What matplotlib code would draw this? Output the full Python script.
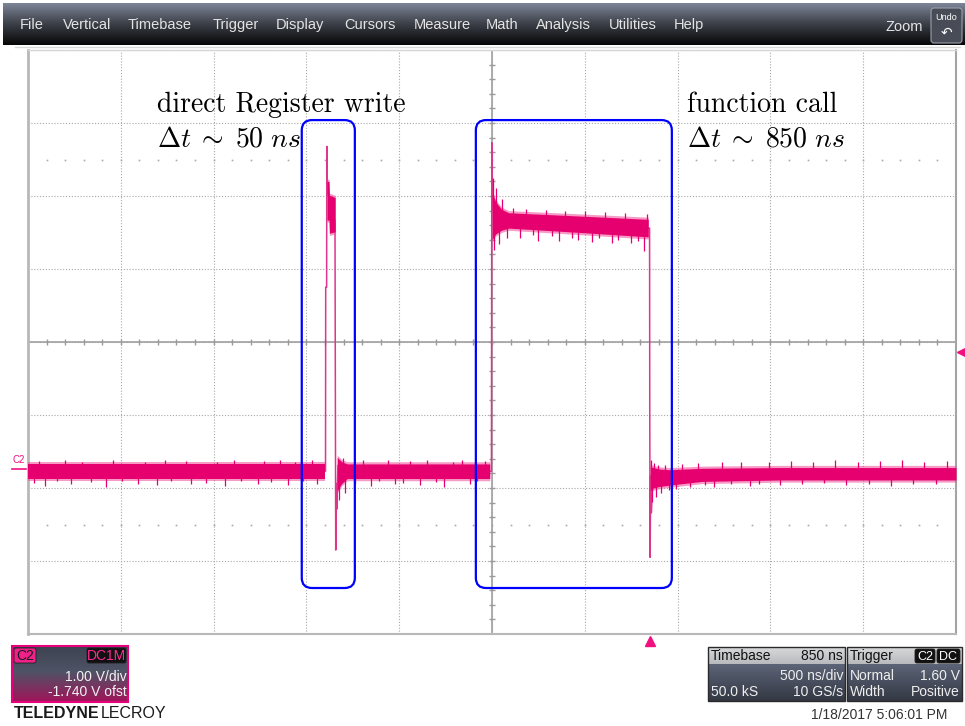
import numpy as np
import matplotlib.pyplot as plt
import matplotlib.transforms as mtransforms
from matplotlib.patches import FancyBboxPatch, Rectangle
from matplotlib.colors import to_rgb

plt.rcParams['mathtext.fontset'] = 'cm'
UI_FONT = ['Liberation Sans', 'DejaVu Sans']
NARROW_FONT = ['Liberation Sans Narrow', 'Liberation Sans', 'DejaVu Sans']

# scope settings (time in ns relative to trigger, volts)
ns_per_div = 500
delay_ns = 850
v_per_div = 1.0
offset_v = -1.74
trig_level = 1.60

# main trace outline
trace_t = [-3350, -1747, -1746, -1741, -1740, -1737, -1725, -1705, -1696, -1692,
           -1689, -1686, -1680, -1665, -853, -851, -849, -846, -830, -6,
           -1, 0, 2, 5, 9, 16, 40, 1650]
trace_v = [-0.03, -0.03, 2.49, 2.49, 4.42, 3.85, 3.65, 3.45, 3.40, -1.11,
           -0.20, -0.55, 0.05, -0.03, -0.03, 4.47, 3.55, 3.75, 3.42, 3.30,
           3.30, 0.74, -1.21, -0.10, -0.60, -0.15, -0.12, -0.07]

# noise envelopes
pre_t = [-3350, -1748]
pre_hi = [0.07, 0.07]
pre_lo = [-0.13, -0.13]

reg_t = [-1739, -1728, -1726, -1695]
reg_hi = [3.94, 3.94, 3.75, 3.72]
reg_lo = [3.41, 3.41, 3.23, 3.25]

mid_t = [-1684, -1660, -1630, -862]
mid_hi = [0.16, 0.10, 0.07, 0.07]
mid_lo = [-0.30, -0.20, -0.13, -0.13]

top_t = [-849, -830, -800, -760, -500, -250, -8]
top_hi = [3.78, 3.66, 3.56, 3.51, 3.48, 3.45, 3.42]
top_lo = [3.14, 3.22, 3.27, 3.30, 3.26, 3.22, 3.18]

post_t = [3, 20, 50, 110, 280, 700, 1650]
post_hi = [0.03, 0.02, 0.00, -0.01, 0.01, 0.02, 0.02]
post_lo = [-0.30, -0.26, -0.24, -0.22, -0.17, -0.15, -0.15]

# noise spikes sticking out of the envelopes (time, tip voltage)
pre_spike_t = [-3320, -3290, -3260, -3195, -3150, -3120, -3060, -3010, -2930, -2890,
               -2845, -2760, -2720, -2655, -2610, -2580, -2500, -2470, -2390, -2330,
               -2290, -2240, -2200, -2110, -2080, -2040, -1990, -1950, -1910, -1870,
               -1820, -1795]
pre_spike_v = [-0.19, 0.11, -0.23, -0.17, 0.13, -0.21, 0.10, -0.18, -0.24, 0.12,
               -0.17, -0.20, 0.10, -0.22, 0.13, -0.17, 0.11, -0.21, -0.19, 0.10,
               -0.23, 0.12, -0.17, -0.20, 0.11, -0.18, 0.13, -0.22, 0.10, -0.17,
               0.12, -0.20]
mid_spike_t = [-1672, -1655, -1640, -1590, -1545, -1500, -1460, -1410, -1370, -1330,
               -1290, -1240, -1200, -1150, -1110, -1060, -1010, -970, -930, -890]
mid_spike_v = [-0.42, 0.15, -0.33, -0.20, 0.12, -0.23, -0.17, 0.13, -0.21, -0.19,
               0.11, -0.22, 0.12, -0.18, -0.24, 0.10, 0.13, -0.20, -0.17, 0.11]
top_spike_t = [-845, -838, -826, -812, -795, -770, -735, -700, -665, -630,
               -600, -560, -525, -490, -455, -420, -385, -350, -310, -275,
               -240, -205, -170, -135, -100, -65, -30, -14]
top_spike_v = [3.98, 3.00, 3.85, 3.08, 3.70, 3.17, 3.58, 3.16, 3.56, 3.20,
               3.13, 3.55, 3.19, 3.12, 3.54, 3.17, 3.14, 3.53, 3.11, 3.16,
               3.52, 3.10, 3.14, 3.51, 3.09, 3.12, 2.98, 3.50]
post_spike_t = [8, 14, 24, 33, 45, 62, 80, 105, 140, 175, 215, 260, 300, 345,
                390, 440, 490, 540, 590, 640, 700, 760, 820, 880, 940, 1000,
                1060, 1120, 1180, 1240, 1300, 1360, 1420, 1480, 1540, 1600]
post_spike_v = [0.12, -0.45, 0.08, -0.38, 0.06, -0.33, 0.05, -0.29, -0.27, 0.07,
                -0.25, 0.08, -0.22, -0.24, 0.09, -0.21, 0.10, -0.23, -0.20, 0.09,
                -0.22, 0.11, -0.21, 0.10, -0.19, 0.12, -0.22, 0.10, -0.20, 0.11,
                -0.23, 0.12, -0.20, 0.10, -0.21, 0.11]

# annotation boxes and labels
box_t0 = [-1875, -937]
box_t1 = [-1589, 119]
box_v0 = [-1.63, -1.63]
box_v1 = [4.78, 4.78]
label_t = [-2656, -2656, 199, 199]
label_v = [4.89, 4.42, 4.89, 4.42]
label_text = ["direct Register write", r"$\Delta t\;\sim\;50\ ns$",
              "function call", r"$\Delta t\;\sim\;850\ ns$"]

menu_items = ["File", "Vertical", "Timebase", "Trigger", "Display", "Cursors",
              "Measure", "Math", "Analysis", "Utilities", "Help"]
menu_x = [20, 63, 128, 213, 276, 344, 414, 486, 536, 609, 674]

TRACE = '#e6006f'
FUZZ = '#ee4a96'
EDGE = '#e0358c'


def gradient(axx, x0, x1, y0, y1, stops, zorder=1):
    pos = np.array([s[0] for s in stops])
    cols = np.array([to_rgb(s[1]) for s in stops])
    f = np.linspace(0, 1, 128)
    img = np.stack([np.interp(f, pos, cols[:, k]) for k in range(3)], axis=1)[:, None, :]
    axx.imshow(img, extent=(x0, x1, y1, y0), aspect='auto', zorder=zorder,
               interpolation='bilinear')


def tag(axx, x0, x1, y0, y1, fc, text, tc, size=9):
    axx.add_patch(FancyBboxPatch((x0, y0), x1 - x0, y1 - y0,
                                 boxstyle='round,pad=0,rounding_size=2',
                                 fc=fc, ec='#202020', lw=0.6, zorder=4))
    axx.text((x0 + x1) / 2, (y0 + y1) / 2 + 0.5, text, color=tc, fontsize=size,
             ha='center', va='center', family=UI_FONT, zorder=5)


fig = plt.figure(figsize=(9.65, 7.26), dpi=100)
fig.patch.set_facecolor('white')

# ---- UI chrome in pixel coordinates ----
ui = fig.add_axes([0, 0, 1, 1], zorder=0)
ui.axis('off')

gradient(ui, 3, 965, 3, 45, [(0, '#7d8597'), (0.5, '#3b3f47'), (1, '#060606')])
for name, x in zip(menu_items, menu_x):
    ui.text(x, 25, name, color='#e4e4e4', fontsize=10.5, ha='left', va='center',
            family=UI_FONT, zorder=3)
ui.text(886, 27, "Zoom", color='#e4e4e4', fontsize=10.5, ha='left', va='center',
        family=UI_FONT, zorder=3)
ui.add_patch(FancyBboxPatch((931, 8), 31, 35, boxstyle='round,pad=0,rounding_size=3',
                            fc='#474c57', ec='#9aa0aa', lw=0.8, zorder=3))
ui.text(946.5, 18, "Undo", color='white', fontsize=6.5, ha='center', va='center',
        family=UI_FONT, zorder=4)
ui.text(946.5, 33, "\u21b6", color='white', fontsize=10, ha='center', va='center',
        family=['DejaVu Sans'], zorder=4)
ui.plot([15, 960], [47, 47], color='#d8d8d8', lw=1, zorder=2)

# channel box
gradient(ui, 12, 128, 646, 702, [(0, '#3c4250'), (0.45, '#4e5466'), (1, '#a0145a')], zorder=2)
ui.add_patch(Rectangle((12, 646), 116, 56, fc='none', ec='#e6007a', lw=1.5, zorder=3))
tag(ui, 14, 36, 648, 663, '#f0208a', "C2", '#1a1a1a', 10)
tag(ui, 87, 126, 648, 663, '#111111', "DC1M", '#ff2a95', 10)
ui.text(127, 677, "1.00 V/div", color='#f2f2f2', fontsize=10, ha='right', va='center',
        family=UI_FONT, zorder=4)
ui.text(127, 692, "-1.740 V ofst", color='#f2f2f2', fontsize=10, ha='right', va='center',
        family=UI_FONT, zorder=4)
ui.text(14, 713, "TELEDYNE", color='#1a1a1a', fontsize=11.5, fontweight='bold',
        ha='left', va='center', family=UI_FONT)
ui.text(101, 713, "LECROY", color='#1a1a1a', fontsize=11.5, ha='left', va='center',
        family=NARROW_FONT)

# timebase / trigger boxes
for x0, x1 in [(708, 845), (847, 962)]:
    gradient(ui, x0, x1, 664, 701, [(0, '#5c6477'), (1, '#333843')], zorder=2)
    gradient(ui, x0, x1, 647, 664, [(0, '#d8d9db'), (1, '#b9babd')], zorder=2)
    ui.add_patch(Rectangle((x0, 647), x1 - x0, 54, fc='none', ec='#2a2a2a', lw=1, zorder=3))
ui.text(711, 656, "Timebase", color='#111111', fontsize=10, ha='left', va='center', family=UI_FONT, zorder=4)
ui.text(843, 656, "850 ns", color='#111111', fontsize=10, ha='right', va='center', family=UI_FONT, zorder=4)
ui.text(843, 676, "500 ns/div", color='#eeeeee', fontsize=10, ha='right', va='center', family=UI_FONT, zorder=4)
ui.text(711, 692, "50.0 kS", color='#eeeeee', fontsize=10, ha='left', va='center', family=UI_FONT, zorder=4)
ui.text(843, 692, "10 GS/s", color='#eeeeee', fontsize=10, ha='right', va='center', family=UI_FONT, zorder=4)
ui.text(850, 656, "Trigger", color='#111111', fontsize=10, ha='left', va='center', family=UI_FONT, zorder=4)
tag(ui, 915, 935, 649, 663, '#111111', "C2", 'white', 9)
tag(ui, 937, 960, 649, 663, '#111111', "DC", 'white', 9)
ui.text(850, 676, "Normal", color='#eeeeee', fontsize=10, ha='left', va='center', family=UI_FONT, zorder=4)
ui.text(960, 676, "1.60 V", color='#eeeeee', fontsize=10, ha='right', va='center', family=UI_FONT, zorder=4)
ui.text(850, 692, "Width", color='#eeeeee', fontsize=10, ha='left', va='center', family=UI_FONT, zorder=4)
ui.text(960, 692, "Positive", color='#eeeeee', fontsize=10, ha='right', va='center', family=UI_FONT, zorder=4)
ui.text(879, 715, "1/18/2017 5:06:01 PM", color='#333333', fontsize=10, ha='center', va='center',
        family=UI_FONT)

ui.set_xlim(0, 965)
ui.set_ylim(726, 0)

# ---- scope grid ----
ax = fig.add_axes([28 / 965, 1 - 634 / 726, 928 / 965, 584 / 726], zorder=1)
t_center = -delay_ns
v_center = -offset_v
ax.set_xlim(t_center - 5 * ns_per_div, t_center + 5 * ns_per_div)
ax.set_ylim(v_center - 4 * v_per_div, v_center + 4 * v_per_div)
ax.set_xticks(np.arange(t_center - 5 * ns_per_div, t_center + 5.1 * ns_per_div, ns_per_div))
ax.set_yticks(np.arange(v_center - 4 * v_per_div, v_center + 4.1 * v_per_div, v_per_div))
ax.tick_params(length=0, labelbottom=False, labelleft=False)
ax.grid(color='#a8a8a8', lw=0.8, linestyle=(0, (1, 1.6)))
ax.set_axisbelow(True)
ax.spines['left'].set(color='#b8b8b8', lw=2)
ax.spines['bottom'].set(color='#b8b8b8', lw=1.5)
ax.spines['top'].set(color='#d6d6d6', lw=1)
ax.spines['right'].set(color='#a4a4a4', lw=1.5)

ax.axhline(v_center, color='#a0a0a0', lw=1.2, zorder=1)
ax.axvline(t_center, color='#a0a0a0', lw=1.2, zorder=1)
minor_t = np.arange(t_center - 5 * ns_per_div, t_center + 5 * ns_per_div, ns_per_div / 5)
minor_v = np.arange(v_center - 4 * v_per_div, v_center + 4 * v_per_div, v_per_div / 5)
ax.plot(minor_t, np.full(minor_t.size, v_center), ls='none', marker='|', ms=5,
        mew=1, color='#9a9a9a', zorder=1)
ax.plot(np.full(minor_v.size, t_center), minor_v, ls='none', marker='_', ms=5,
        mew=1, color='#9a9a9a', zorder=1)
for vv in (v_center + 2.5 * v_per_div, v_center - 2.5 * v_per_div):
    ax.plot(minor_t, np.full(minor_t.size, vv), ls='none', marker='s', ms=1.2,
            color='#a8a8a8', mew=0, zorder=1)

# ---- trace ----
ax.plot(trace_t, trace_v, color=EDGE, lw=1.1, zorder=3)
bands = [(pre_t, pre_hi, pre_lo), (reg_t, reg_hi, reg_lo), (mid_t, mid_hi, mid_lo),
         (top_t, top_hi, top_lo), (post_t, post_hi, post_lo)]
for tt, hi, lo in bands:
    hi, lo = np.array(hi), np.array(lo)
    ax.fill_between(tt, lo - 0.03, hi + 0.03, color=FUZZ, alpha=0.55, lw=0, zorder=3)
    ax.fill_between(tt, lo, hi, color=TRACE, lw=0, zorder=3)
spikes = [(pre_spike_t, pre_spike_v, pre_t, pre_hi, pre_lo),
          (mid_spike_t, mid_spike_v, mid_t, mid_hi, mid_lo),
          (top_spike_t, top_spike_v, top_t, top_hi, top_lo),
          (post_spike_t, post_spike_v, post_t, post_hi, post_lo)]
for st, sv, tt, hi, lo in spikes:
    base = np.median((np.array(hi) + np.array(lo)) / 2)
    ax.vlines(st, sv, base, color=TRACE, lw=0.9, zorder=3)

# ---- annotations ----
aspect = (584 / 8 / v_per_div) / (928 / 10 / ns_per_div)
for t0, t1, v0, v1 in zip(box_t0, box_t1, box_v0, box_v1):
    ax.add_patch(FancyBboxPatch((t0, v0), t1 - t0, v1 - v0,
                                boxstyle='round,pad=0,rounding_size=55',
                                mutation_aspect=1 / aspect, fc='none', ec='#0000ff',
                                lw=1.6, zorder=4))
for tt, vv, s in zip(label_t, label_v, label_text):
    ax.text(tt, vv, s, fontsize=20, family='cmr10', ha='left', va='baseline',
            color='black', zorder=5)

# ---- markers: trigger level, trigger time, ground ----
side = mtransforms.blended_transform_factory(ax.transAxes, ax.transData)
ax.plot([1.006], [trig_level], marker='<', ms=7, color='#f0107f', clip_on=False,
        transform=side, zorder=6)
ax.plot([0], [-0.012], marker='^', ms=7, color='#f0107f', clip_on=False,
        transform=mtransforms.blended_transform_factory(ax.transData, ax.transAxes), zorder=6)
ax.plot([-0.017, -0.002], [0, 0], color='#f0107f', lw=1.2, clip_on=False, transform=side, zorder=6)
ax.text(-0.0095, 0.06, "C2", color='#f0107f', fontsize=7, ha='center', va='bottom',
        family=UI_FONT, transform=side, clip_on=False)

fig.savefig('out.png', dpi=100)
